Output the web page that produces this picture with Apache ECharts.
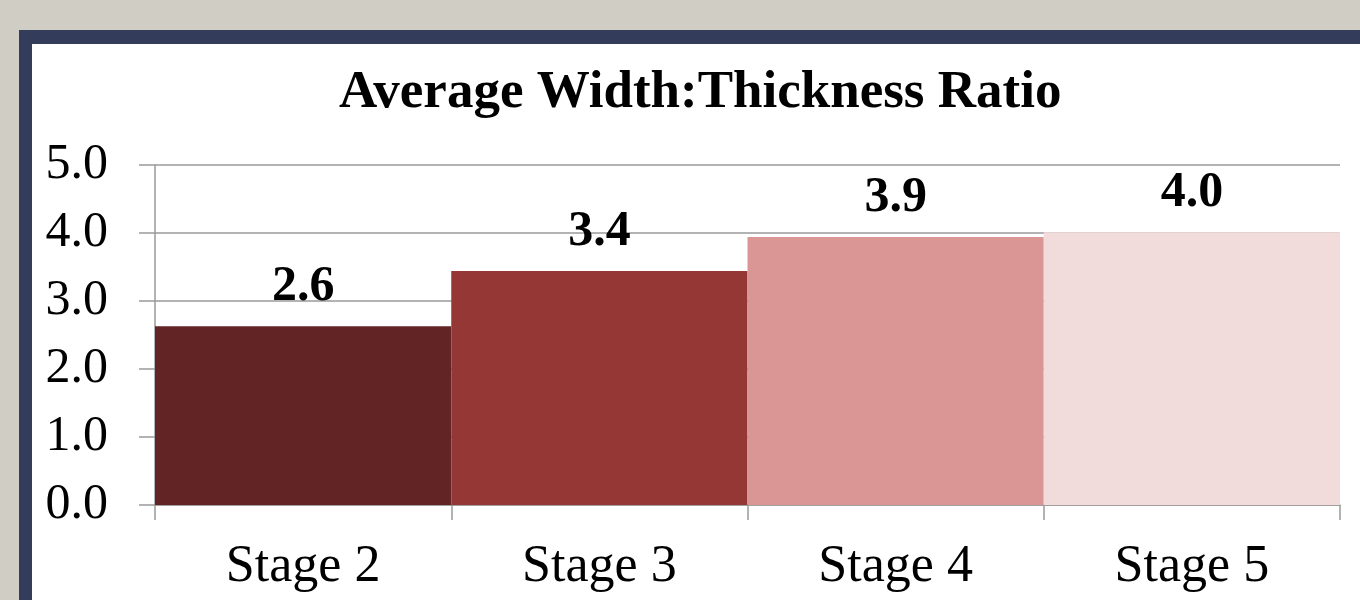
<!DOCTYPE html>
<html>
<head>
<meta charset="utf-8">
<script src="https://cdn.jsdelivr.net/npm/echarts@6/dist/echarts.min.js"></script>
<style>
html,body{margin:0;padding:0;background:#d0cdc5;}
#c{width:1360px;height:600px;}
</style>
</head>
<body>
<div id="c"></div>
<script>
var titleText = 'Average Width:Thickness Ratio';
var categories = ['Stage 2', 'Stage 3', 'Stage 4', 'Stage 5'];
var values = [2.63, 3.44, 3.94, 4.01];
var barColors = ['#632426', '#953735', '#d99694', '#f2dcdb'];
var yTicks = [0, 1, 2, 3, 4, 5];

var chart = echarts.init(document.getElementById('c'), null, {renderer: 'canvas'});
var font = '"Liberation Serif", "Times New Roman", serif';
chart.setOption({
  backgroundColor: '#d0cdc5',
  animation: false,
  graphic: [
    {type: 'rect', z: -10, silent: true, shape: {x: 19, y: 30, width: 1400, height: 700}, style: {fill: '#333c5a'}},
    {type: 'rect', z: -9, silent: true, shape: {x: 32, y: 44, width: 1400, height: 700}, style: {fill: '#ffffff'}}
  ],
  title: {
    text: titleText,
    left: 334,
    top: 62,
    textStyle: {fontFamily: font, fontSize: 53, fontWeight: 'bold', color: '#000'}
  },
  grid: {left: 155, right: 20, top: 165, bottom: 95, containLabel: false},
  xAxis: {
    type: 'category',
    data: categories,
    axisLine: {show: true, lineStyle: {color: '#9a9a9a', width: 1.5}},
    axisTick: {show: true, length: 15, alignWithLabel: false, lineStyle: {color: '#9a9a9a', width: 1.5}},
    axisLabel: {fontFamily: font, fontSize: 52, color: '#000', margin: 36}
  },
  yAxis: {
    type: 'value',
    min: yTicks[0],
    max: yTicks[yTicks.length - 1],
    interval: 1,
    axisLine: {show: true, lineStyle: {color: '#9a9a9a', width: 1.5}},
    axisTick: {show: true, inside: false, length: 16, lineStyle: {color: '#9a9a9a', width: 1.5}},
    splitLine: {show: true, lineStyle: {color: '#9a9a9a', width: 1.5}},
    axisLabel: {fontFamily: font, fontSize: 50, color: '#000', margin: 47,
      formatter: function (v) { return v.toFixed(1); }}
  },
  series: [{
    type: 'bar',
    barCategoryGap: '0%',
    data: values.map(function (v, i) { return {value: v, itemStyle: {color: barColors[i]}}; }),
    label: {
      show: true,
      position: 'top',
      distance: 14,
      fontFamily: font,
      fontSize: 50,
      fontWeight: 'bold',
      color: '#000',
      formatter: function (p) { return p.value.toFixed(1); }
    }
  }]
});
</script>
</body>
</html>
